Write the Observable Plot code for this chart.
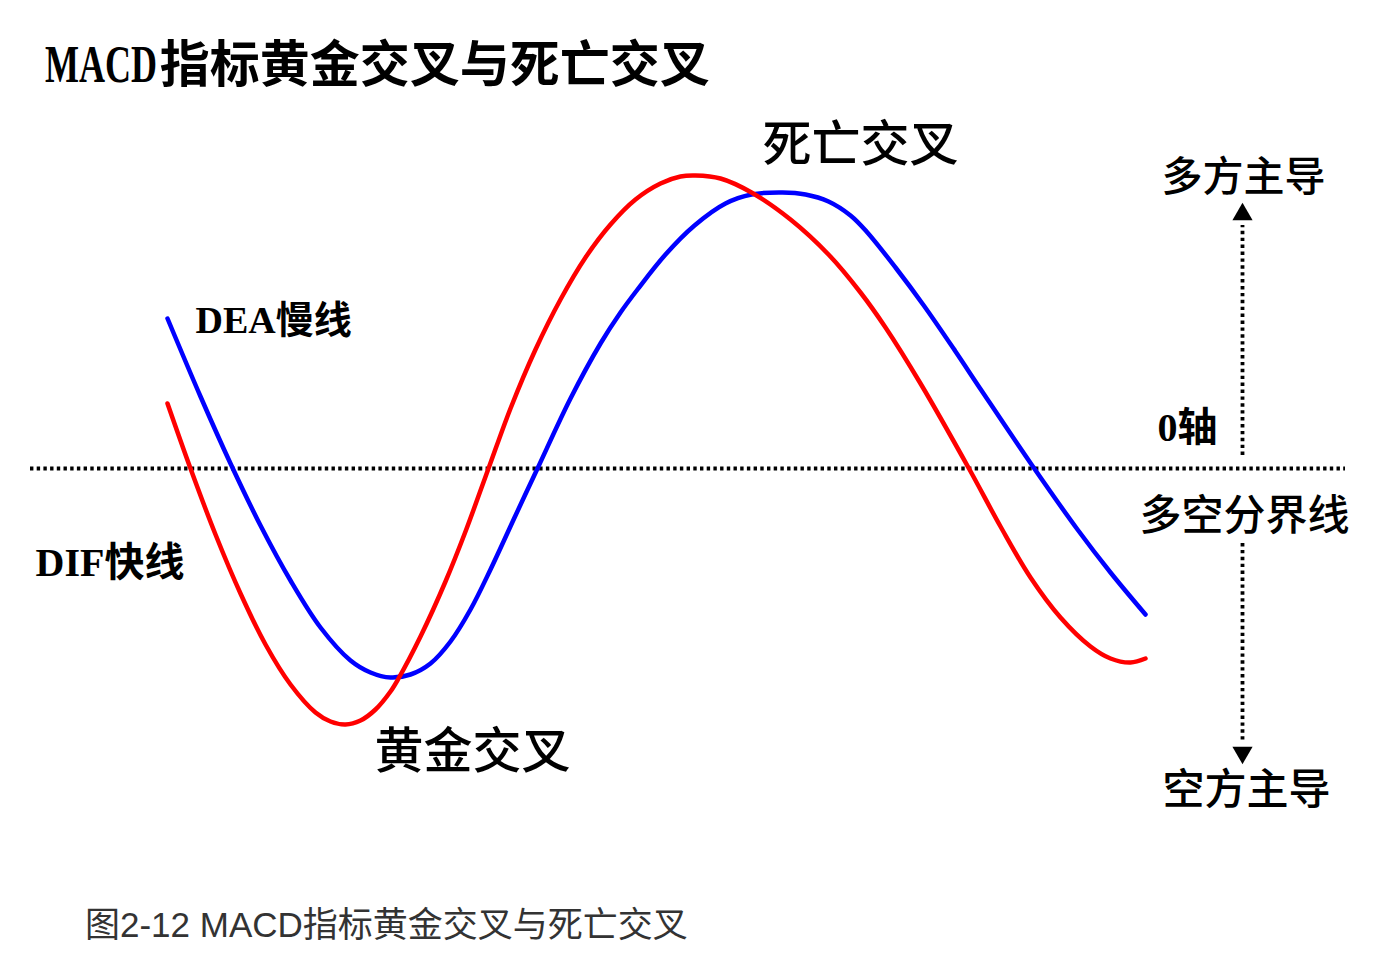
<!DOCTYPE html>
<html>
<head>
<meta charset="utf-8">
<script src="https://cdn.jsdelivr.net/npm/d3@7"></script>
<script src="https://cdn.jsdelivr.net/npm/@observablehq/plot@0.6"></script>
<style>
  body { margin: 0; background: #fff; }
  #title { height: 95px; box-sizing: border-box; padding: 35px 0 0 45px; font: 700 50px/50px "Noto Sans CJK SC", sans-serif; color: #000; white-space: nowrap; }
  #title .lat { font-family: "Liberation Serif", serif; font-size: 53px; display: inline-block; transform: scaleX(0.68); transform-origin: 0 50%; margin-right: -50px; }
  #caption { height: 100px; box-sizing: border-box; padding: 36px 0 0 85px; font: 400 35px/38px "Liberation Sans", "Noto Sans CJK SC", sans-serif; color: #333; white-space: nowrap; }
  #chart svg { display: block; }
</style>
</head>
<body>
<div id="title"><span class="lat">MACD</span>指标黄金交叉与死亡交叉</div>
<div id="chart"></div>
<div id="caption">图2-12 MACD指标黄金交叉与死亡交叉</div>
<script>
// DIF fast line (red)
const difX = [167, 190, 215, 240, 265, 290, 315, 330, 345, 360, 375, 390, 398, 420, 445, 465, 488, 510, 535, 560, 585, 610, 635, 660, 680, 695, 720, 751, 790, 828, 860, 885, 920, 969, 1000, 1030, 1060, 1090, 1110, 1130, 1145];
const difY = [0.65, 0.00, -0.66, -1.25, -1.76, -2.16, -2.44, -2.53, -2.56, -2.52, -2.41, -2.23, -2.10, -1.68, -1.13, -0.63, 0.00, 0.60, 1.19, 1.69, 2.11, 2.44, 2.69, 2.85, 2.92, 2.93, 2.90, 2.76, 2.49, 2.14, 1.76, 1.41, 0.85, -0.01, -0.58, -1.09, -1.49, -1.78, -1.90, -1.94, -1.90];
// DEA slow line (blue)
const deaX = [167, 200, 230, 260, 290, 320, 350, 370, 390, 410, 430, 450, 470, 490, 515, 537, 570, 600, 620, 637, 665, 694, 725, 751, 782, 805, 828, 850, 866, 895, 924, 955, 981, 1031, 1077, 1110, 1145];
const deaY = [1.50, 0.72, 0.05, -0.57, -1.12, -1.59, -1.92, -2.04, -2.09, -2.06, -1.95, -1.73, -1.41, -1.01, -0.47, 0.00, 0.70, 1.25, 1.56, 1.79, 2.14, 2.43, 2.65, 2.74, 2.76, 2.74, 2.67, 2.53, 2.37, 2.01, 1.62, 1.17, 0.78, 0.04, -0.61, -1.04, -1.46];

// zero axis extent
const zeroSpan = [30, 1345];
// vertical dotted arrow (多空方向)
const arrowX = 1242;
const arrowUpper = [0.13, 2.43];
const arrowLower = [-0.75, -2.72];
const arrowHeads = [{y: 2.54, rot: 0}, {y: -2.84, rot: 180}];

// annotation labels
const labelText = ["死亡交叉", "黄金交叉", "多方主导", "多空分界线", "空方主导"];
const labelX = [860, 472, 1243, 1244, 1246];
const labelY = [3.23, -2.84, 2.91, -0.48, -3.22];
const labelSize = [49, 49, 41, 42, 42];

const boldText = ["DEA慢线", "DIF快线", "0轴"];
const boldX = [195, 35, 1157];
const boldY = [1.48, -0.95, 0.40];
const boldSize = [38, 40, 40];

const dif = difX.map((x, i) => ({x, y: difY[i]}));
const dea = deaX.map((x, i) => ({x, y: deaY[i]}));
const labels = labelText.map((t, i) => ({t, x: labelX[i], y: labelY[i], s: labelSize[i]}));
const bolds = boldText.map((t, i) => ({t, x: boldX[i], y: boldY[i], s: boldSize[i]}));

const chart = Plot.plot({
  width: 1386,
  height: 775,
  margin: 0,
  x: {domain: [0, 1386], axis: null},
  y: {domain: [-4.02, 3.73], axis: null},
  style: {background: "#fff", fontFamily: "'Noto Sans CJK SC', sans-serif"},
  marks: [
    Plot.ruleY([0], {x1: () => zeroSpan[0], x2: () => zeroSpan[1], stroke: "#000", strokeWidth: 3.8, strokeDasharray: "3.4 3.3"}),
    Plot.ruleX([arrowUpper, arrowLower], {x: () => arrowX, y1: d => d[0], y2: d => d[1], stroke: "#000", strokeWidth: 3.8, strokeDasharray: "3.4 3.5"}),
    Plot.dot(arrowHeads, {x: () => arrowX, y: "y", rotate: "rot", symbol: "triangle", r: 7.5, fill: "#000", stroke: "none"}),
    Plot.line(dea, {x: "x", y: "y", stroke: "#0000ff", strokeWidth: 4.5, curve: "catmull-rom"}),
    Plot.line(dif, {x: "x", y: "y", stroke: "#ff0000", strokeWidth: 4.5, curve: "catmull-rom"}),
    Plot.text(labels, {x: "x", y: "y", text: "t", fontSize: d => d.s, fontWeight: 500, fill: "#000", fontFamily: "'Noto Sans CJK SC', sans-serif"}),
    Plot.text(bolds, {x: "x", y: "y", text: "t", textAnchor: "start", fontSize: d => d.s, fontWeight: 700, fill: "#000", fontFamily: "'Liberation Serif', 'Noto Sans CJK SC', serif"})
  ]
});
document.getElementById("chart").appendChild(chart);
</script>
</body>
</html>
